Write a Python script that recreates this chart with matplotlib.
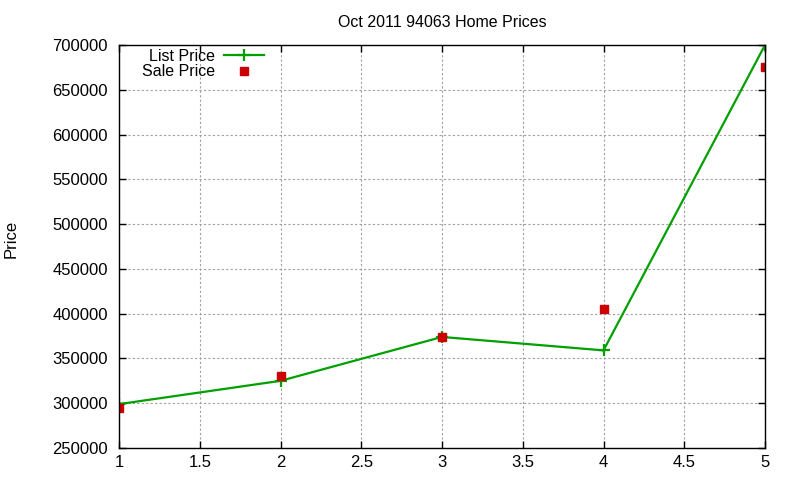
import matplotlib

matplotlib.use("Agg")

import matplotlib.pyplot as plt

x_values = [1, 2, 3, 4, 5]
list_price = [299000, 325000, 374000, 359000, 700000]
sale_price = [295000, 330000, 374000, 405000, 675000]
x_ticks = [1, 1.5, 2, 2.5, 3, 3.5, 4, 4.5, 5]
x_tick_labels = ["1", "1.5", "2", "2.5", "3", "3.5", "4", "4.5", "5"]
y_ticks = list(range(250000, 700001, 50000))

plt.rcParams.update(
    {
        "font.family": ["Liberation Sans", "DejaVu Sans"],
        "font.size": 12,
    }
)

fig = plt.figure(figsize=(8, 4.8), dpi=100)
ax = fig.add_axes([119 / 800, 32 / 480, 646 / 800, 403 / 480])

ax.plot(x_values, list_price, color="#00a000", linewidth=1.6, marker="+",
        markersize=9, markeredgewidth=1.6, label="List Price")
ax.plot(x_values, sale_price, linestyle="none", color="#cc0000", marker="s",
        markersize=6, label="Sale Price")

ax.set_xlim(1, 5)
ax.set_ylim(250000, 700000)
ax.set_xticks(x_ticks)
ax.set_xticklabels(x_tick_labels)
ax.set_yticks(y_ticks)
ax.grid(True, color="#a0a0a0", linestyle=(0, (2, 2)), linewidth=0.8)
ax.tick_params(direction="in", top=True, right=True, length=5, width=1)
ax.tick_params(axis="y", pad=8)
ax.tick_params(axis="x", pad=5)
for spine in ax.spines.values():
    spine.set_linewidth(1)

ax.set_title("Oct 2011 94063 Home Prices", fontsize=11.5, pad=13)
ax.set_ylabel("Price")
ax.yaxis.set_label_coords(-100 / 646, 0.52)

ax.legend(loc="upper left", bbox_to_anchor=(0.02, 1.015), frameon=False,
          markerfirst=False, handlelength=2.5, handletextpad=0.6,
          borderaxespad=0.2, labelspacing=0.05, alignment="right",
          fontsize=11.5)

fig.savefig("out.png", dpi=100)
